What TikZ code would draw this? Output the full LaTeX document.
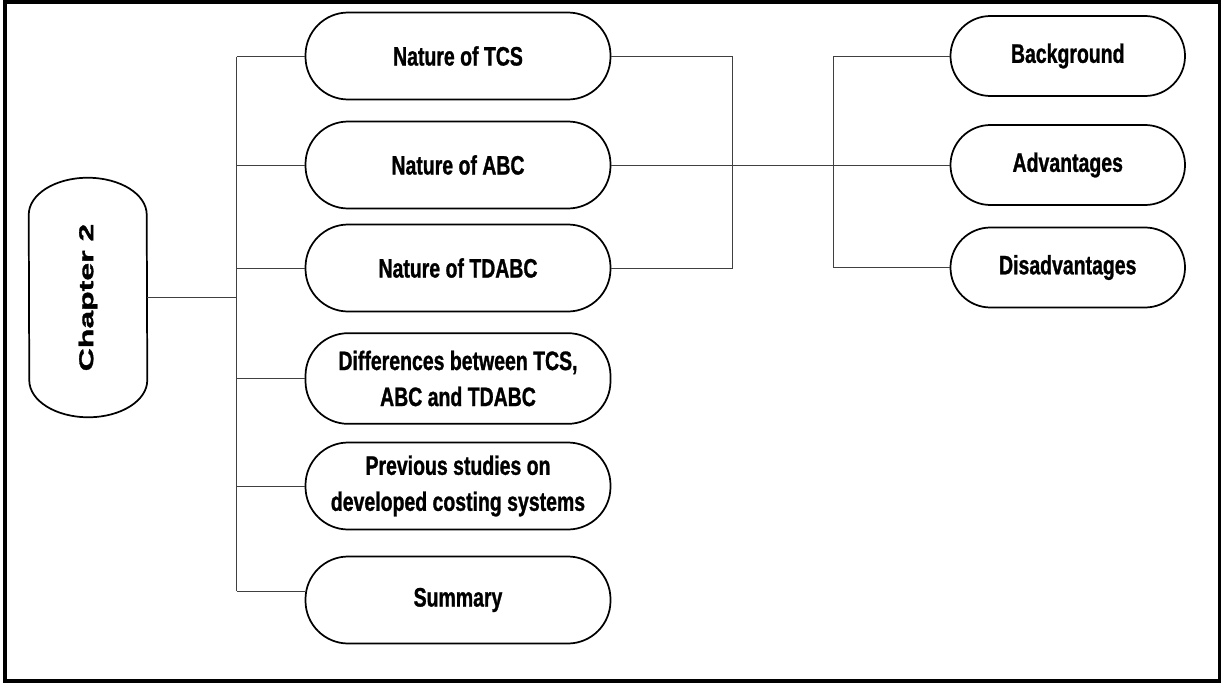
\documentclass[tikz,border=0pt]{standalone}
\usepackage{fontspec}
\setmainfont{Liberation Sans}
% condensed heavy face for the topic boxes, wide heavy face for the chapter tab
\newfontfamily\boxfont[FakeStretch=0.73,FakeBold=1]{Liberation Sans Bold}
\newfontfamily\tabfont[FakeStretch=1.6,FakeBold=1.5]{Liberation Sans Bold}
\begin{document}
\begin{tikzpicture}[x=0.75pt,y=0.75pt,
  boxline/.style={draw=black,line width=1.3pt},
  topic/.style={boxline,rectangle,rounded corners=32pt,minimum width=228.75pt,
    minimum height=65.25pt,inner sep=0pt,align=center,
    font=\boxfont\fontsize{20pt}{27pt}\selectfont},
  subtopic/.style={topic,rounded corners=30pt,minimum width=175.9pt,minimum height=60pt},
  conn/.style={draw=black!75,line width=0.75pt},
  frame/.style={draw=black,line width=3pt}]

\useasboundingbox (0,0) rectangle (1221,-682);
\draw[frame] (4.5,-2) rectangle (1219.5,-680.5);

% chapter tab with elliptical caps
\node[minimum width=88.5pt,minimum height=179.25pt,inner sep=0pt] (ch) at (88,-297.5)
  {\rotatebox{90}{\tabfont\fontsize{15pt}{18pt}\selectfont Chapter 2}};
\draw[boxline] ([yshift=-27.75pt]ch.north west)
  arc[start angle=180,end angle=0,x radius=59,y radius=37]
  -- ([yshift=27.75pt]ch.south east)
  arc[start angle=0,end angle=-180,x radius=59,y radius=37] -- cycle;

% main topics
\node[topic] (tcs)   at (458,-56)   {Nature of TCS};
\node[topic] (abc)   at (458,-165)  {Nature of ABC};
\node[topic] (tdabc) at (458,-268)  {Nature of TDABC};
\node[topic,minimum height=68pt] (diff) at (458,-378.5) {Differences between TCS,\\ABC and TDABC};
\node[topic] (prev)  at (458,-486)  {Previous studies on\\developed costing systems};
\node[topic] (sum)   at (458,-600)  {Summary};

% sub-topics
\node[subtopic] (bg)  at (1067.75,-56)    {Background};
\node[subtopic] (adv) at (1067.75,-165)   {Advantages};
\node[subtopic] (dis) at (1067.75,-267.5) {Disadvantages};

% trunk and bracket positions
\coordinate (trtop) at (236.7,-56.7);
\coordinate (trbot) at (236.7,-591);
\coordinate (lbx) at (732,0);
\coordinate (rbx) at (833.6,0);

% chapter tree
\draw[conn] (ch.east) -- (ch.east -| trtop);
\draw[conn] (trtop) -- (trbot);
\foreach \n in {tcs,abc,tdabc,diff,prev}
  \draw[conn] (\n.west -| trtop) -- (\n.west);
\draw[conn] (trbot) -- (trbot -| sum.west);

% nature topics to their sub-topics
\draw[conn] (tcs.east) -- (tcs.east -| lbx) |- (tdabc.east);
\draw[conn] (abc.east) -- (adv.west);
\draw[conn] (bg.west) -- (bg.west -| rbx) |- (dis.west);
\end{tikzpicture}
\end{document}
